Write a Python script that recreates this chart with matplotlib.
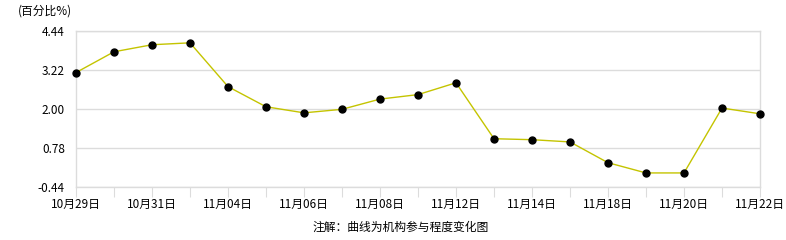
"""Institution participation curve, percent by trading day."""

import matplotlib
matplotlib.use("Agg")
import matplotlib.pyplot as plt

plt.rcParams["font.family"] = ["Noto Sans CJK SC", "DejaVu Sans"]

dates = ["10月29日", "10月30日", "10月31日", "11月03日", "11月04日", "11月05日",
         "11月06日", "11月07日", "11月08日", "11月11日", "11月12日", "11月13日",
         "11月14日", "11月17日", "11月18日", "11月19日", "11月20日", "11月21日",
         "11月22日"]
values = [3.14, 3.79, 4.01, 4.07, 2.70, 2.07, 1.88, 1.99, 2.31, 2.45, 2.82,
          1.07, 1.04, 0.97, 0.32, 0.00, 0.00, 2.03, 1.85]
y_ticks = [-0.44, 0.78, 2.00, 3.22, 4.44]

GRID = "#dcdcdc"

fig = plt.figure(figsize=(7.86, 2.40), dpi=100)
ax = fig.add_axes([76 / 786, 1 - 187 / 240, 684 / 786, 156 / 240])

x = list(range(len(dates)))
ax.plot(x, values, color="#c4c400", linewidth=1.0, zorder=3, clip_on=False)
ax.plot(x, values, linestyle="none", marker="o", markersize=5,
        color="black", zorder=4, clip_on=False)

ax.set_xlim(0, len(dates) - 1)
ax.set_ylim(y_ticks[0], y_ticks[-1])

ax.set_xticks(x)
ax.set_xticklabels([d if i % 2 == 0 else "" for i, d in enumerate(dates)],
                   fontsize=8.5)
ax.set_yticks(y_ticks)
ax.set_yticklabels([f"{v:.2f}" for v in y_ticks], fontsize=8.5)

ax.grid(axis="y", color=GRID, linewidth=1.0)
ax.tick_params(axis="x", length=7, color=GRID, pad=1)
ax.tick_params(axis="y", length=0, pad=8)
for side in ax.spines.values():
    side.set_color(GRID)
    side.set_linewidth(1.0)

fig.text(18 / 786, 1 - 11 / 240, "(百分比%)", fontsize=8.5, va="center")
fig.text(0.51, 1 - 227 / 240, "注解：曲线为机构参与程度变化图",
         fontsize=8.5, ha="center", va="center")

fig.savefig("out.png", dpi=100)
